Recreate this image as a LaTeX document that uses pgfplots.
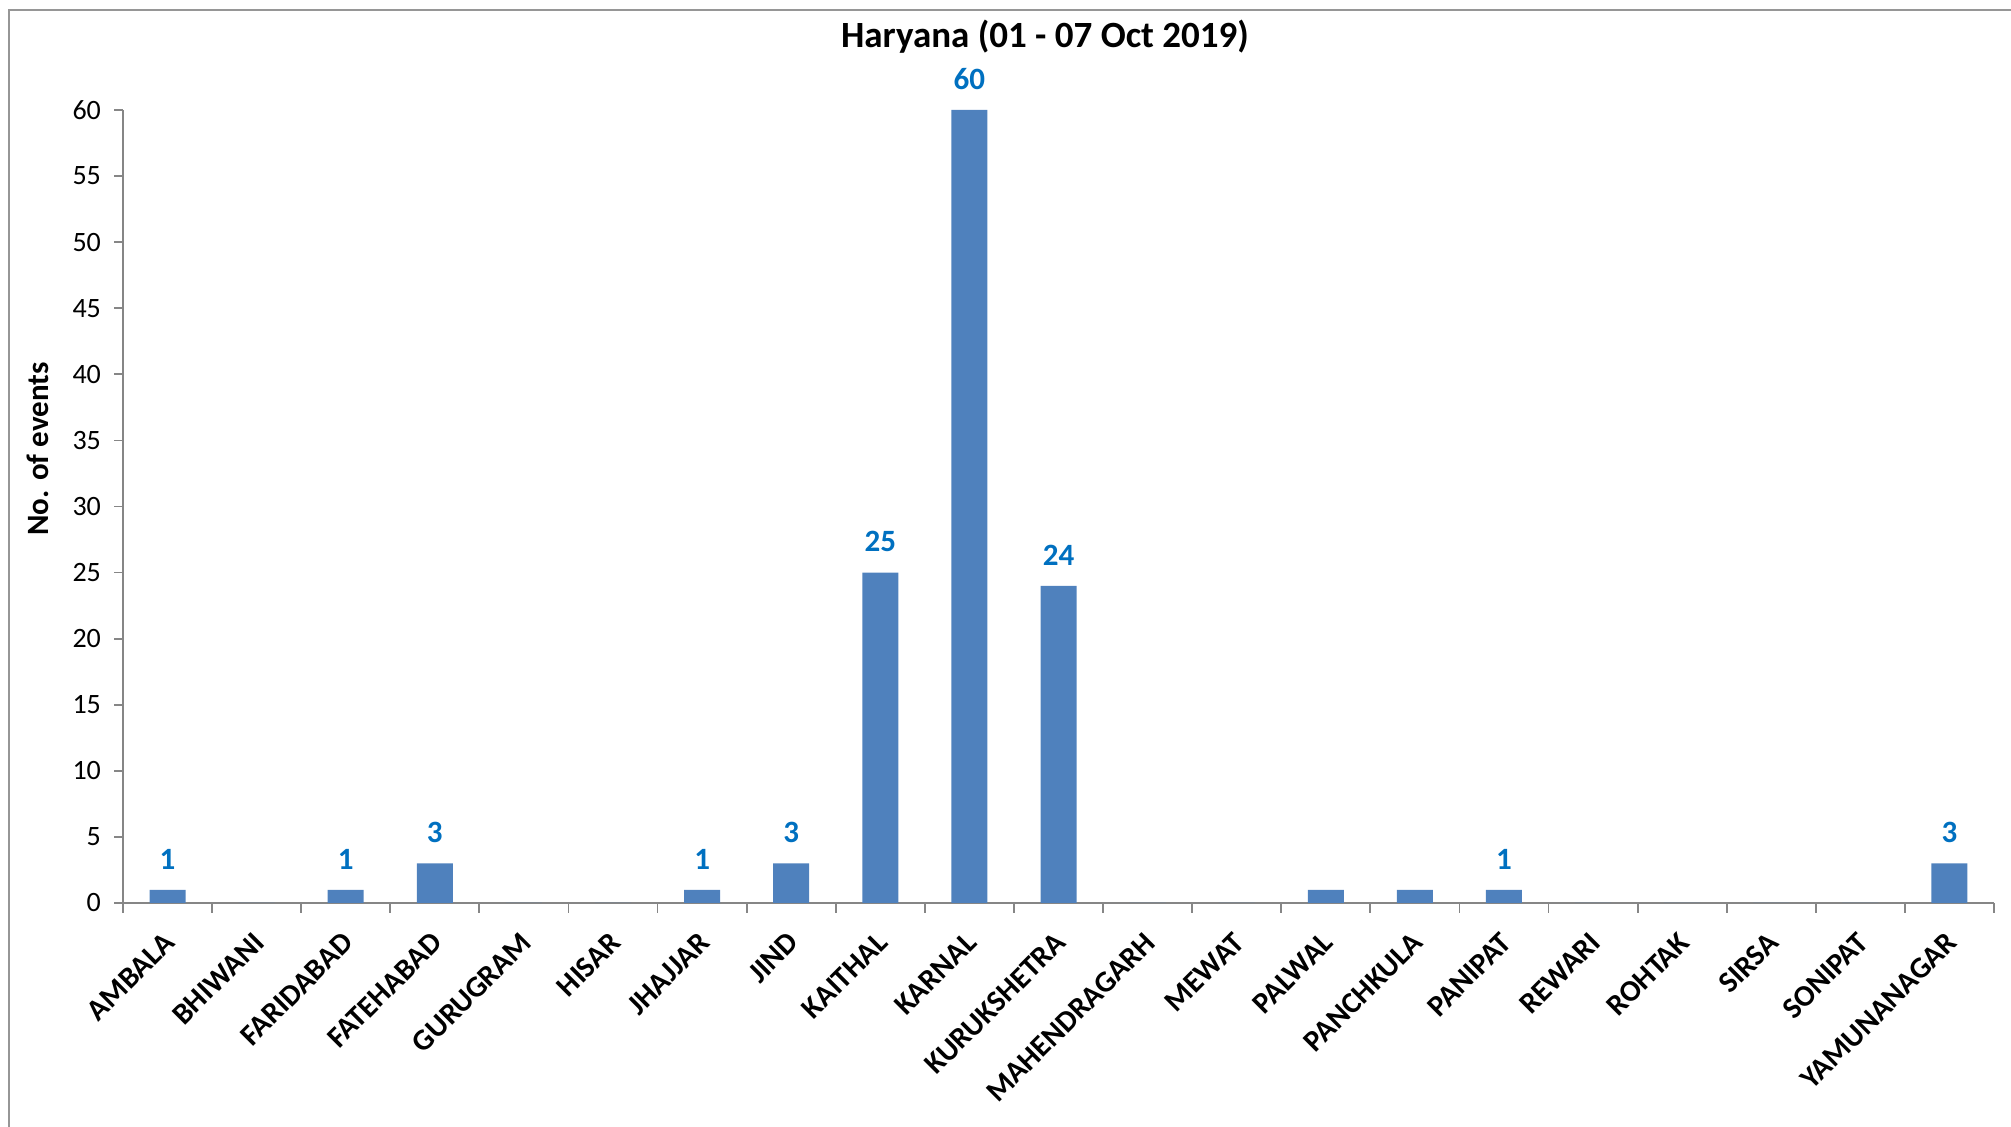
\documentclass[border=0pt]{standalone}
\usepackage{pgfplots}
\pgfplotsset{compat=1.18}
\usepackage{pgfplotstable}
\usepackage{fontspec}
\setmainfont{Carlito}

\definecolor{barblue}{RGB}{79,129,189}
\definecolor{lblblue}{RGB}{0,112,192}
\definecolor{axgray}{RGB}{134,134,134}
\definecolor{framegray}{RGB}{150,150,150}

% district, events in the week, whether the count is printed above the bar
\pgfplotstableread{
idx name events show
0  AMBALA        1  1
1  BHIWANI       0  0
2  FARIDABAD     1  1
3  FATEHABAD     3  1
4  GURUGRAM      0  0
5  HISAR         0  0
6  JHAJJAR       1  1
7  JIND          3  1
8  KAITHAL      25  1
9  KARNAL       60  1
10 KURUKSHETRA  24  1
11 MAHENDRAGARH  0  0
12 MEWAT         0  0
13 PALWAL        1  0
14 PANCHKULA     1  0
15 PANIPAT       1  1
16 REWARI        0  0
17 ROHTAK        0  0
18 SIRSA         0  0
19 SONIPAT       0  0
20 YAMUNANAGAR   3  1
}\events

\begin{document}
\begin{tikzpicture}[x=1pt,y=1pt]
\useasboundingbox (0,0) rectangle (1005.5,563.5);
\draw[framegray, line width=0.8pt] (4.5,0) -- (4.5,558.5) -- (1005.5,558.5);

\node[font=\bfseries\fontsize{18.5}{22}\selectfont] at (522.5,545) {Haryana (01 - 07 Oct 2019)};
\node[rotate=90, font=\bfseries\fontsize{15.5}{18}\selectfont] at (19,339) {No. of events};

\begin{axis}[
  at={(61.5pt,112pt)}, anchor=south west,
  scale only axis, width=935.5pt, height=396.5pt,
  xmin=-0.5, xmax=20.5, ymin=0, ymax=60,
  axis x line=bottom, axis y line=left,
  axis line style={axgray, line width=0.9pt, -},
  clip=false,
  xtick={0,...,20},
  xticklabels={AMBALA,BHIWANI,FARIDABAD,FATEHABAD,GURUGRAM,HISAR,JHAJJAR,JIND,KAITHAL,KARNAL,KURUKSHETRA,MAHENDRAGARH,MEWAT,PALWAL,PANCHKULA,PANIPAT,REWARI,ROHTAK,SIRSA,SONIPAT,YAMUNANAGAR},
  minor xtick={-0.5,0.5,...,20.5},
  ytick={0,5,...,60},
  tick align=outside,
  major tick length=4.5pt, minor tick length=5pt,
  tick style={axgray, line width=0.9pt},
  major x tick style={draw=none},
  xticklabel style={rotate=45, anchor=north east, inner sep=0pt,
    font=\bfseries\fontsize{15}{18}\selectfont, xshift=-8.1pt, yshift=-4.8pt},
  yticklabel style={font=\fontsize{14}{16}\selectfont, xshift=-3pt},
  /pgf/number format/assume math mode=true,
]
\addplot[ybar, bar shift=0pt, bar width=18pt, fill=barblue, draw=none,
  point meta=explicit symbolic,
  nodes near coords={\if1\pgfplotspointmeta\pgfmathprintnumber{\pgfkeysvalueof{/data point/y}}\fi},
  nodes near coords style={text=lblblue, font=\bfseries\fontsize{15.5}{18}\selectfont,
    anchor=south, inner sep=0pt, yshift=10pt,
    /pgf/number format/assume math mode=true}]
  table[x=idx, y=events, meta=show] {\events};
\end{axis}
\end{tikzpicture}
\end{document}
